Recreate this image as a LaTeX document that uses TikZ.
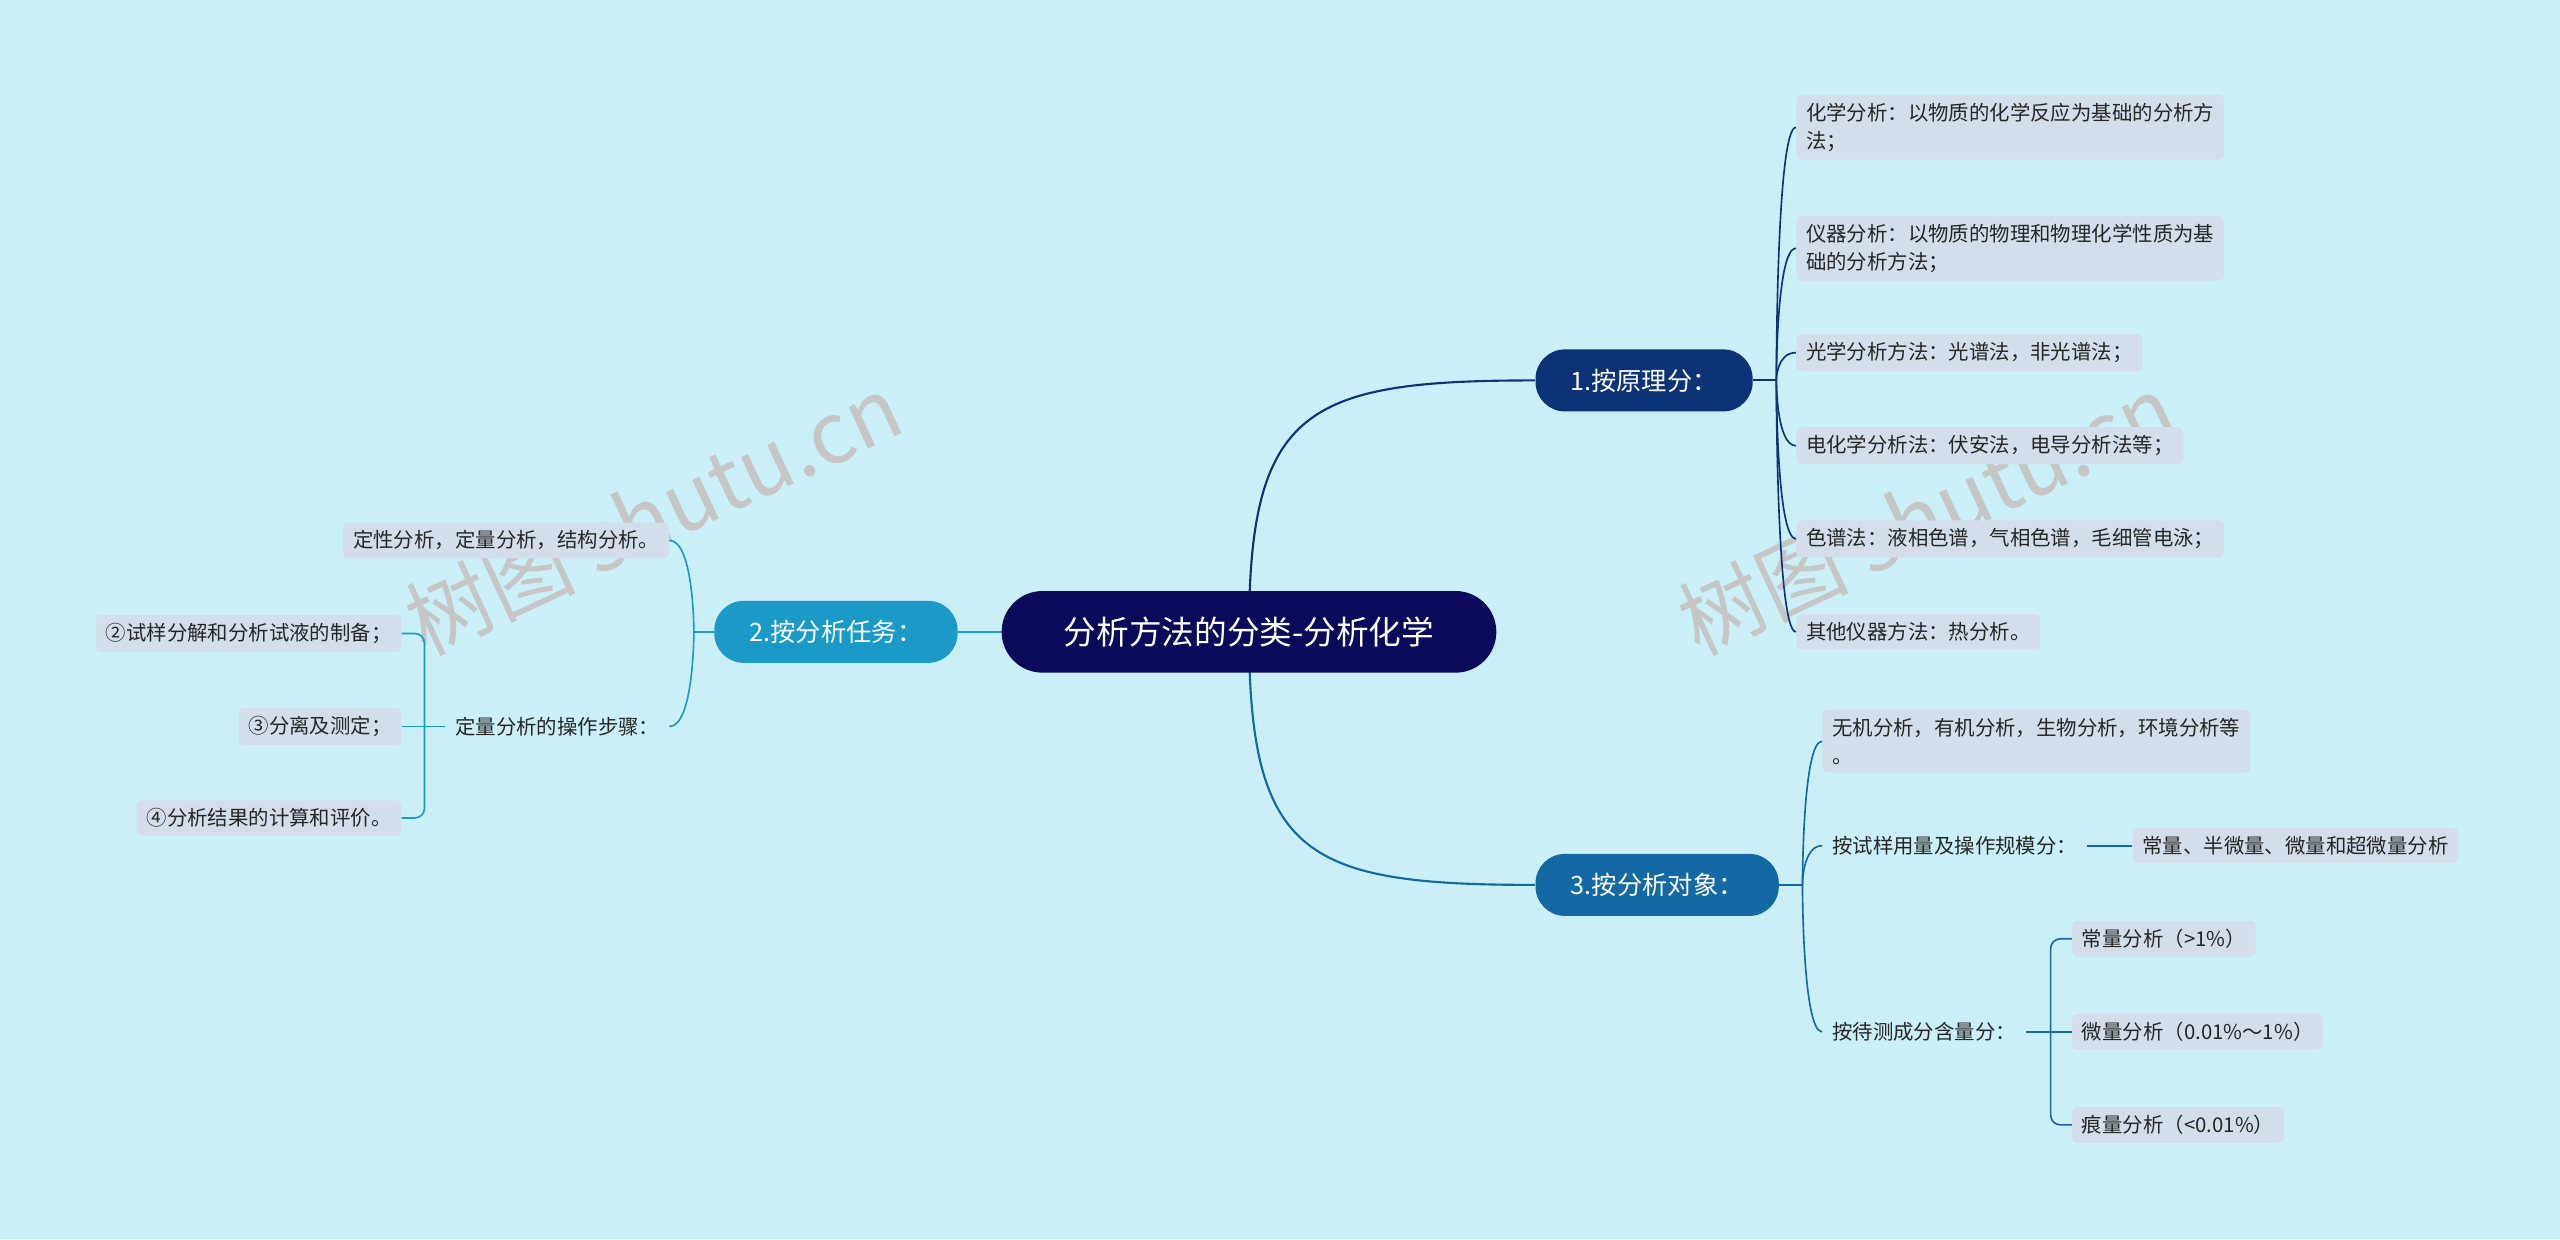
\documentclass[tikz,border=0pt]{standalone}
\usepackage{fontspec}
\setmainfont{Noto Sans CJK SC}
\begin{document}
\begin{tikzpicture}[x=1pt,y=-1pt,
 leaf/.style={anchor=west,fill=lf,rounded corners=3pt,inner xsep=6pt,inner ysep=5pt,font=\fontsize{12.5}{17}\selectfont,align=left,text=black!85},
 br/.style={rounded corners=18pt,minimum height=38pt,text=white,font=\fontsize{15.5}{18}\selectfont,inner xsep=12pt},
 c1/.style={draw=b1c,line width=1.3pt},
 c2/.style={draw=b2c,line width=1.3pt},
 c3/.style={draw=b3c,line width=1.3pt}]
\definecolor{bg}{HTML}{CAEFF7}
\definecolor{lf}{HTML}{D3DEEA}
\definecolor{b1c}{HTML}{0D3377}
\definecolor{b2c}{HTML}{1B9AC8}
\definecolor{b3c}{HTML}{1468A3}
\fill[bg] (0,0) rectangle (1568,759);
\useasboundingbox (0,0) rectangle (1568,759);
\foreach \p in {(400,315),(1180,315)}
 \node[rotate=25,text=gray!45,font=\fontsize{52}{52}\selectfont] at \p {树图 shutu.cn};
% root and branches
\node[br,fill=b1c,minimum width=133pt] (b1) at (1007,233) {1.按原理分：};
\node[br,fill=b2c,minimum width=149pt] (b2) at (512,387) {2.按分析任务：};
\node[br,fill=b3c,minimum width=149pt] (b3) at (1015,542) {3.按分析对象：};
\draw[c1] (765,387) .. controls (765,250) and (800,233) .. (b1.west);
\draw[c3] (765,387) .. controls (765,525) and (800,542) .. (b3.west);
\draw[c2] (b2.east) -- (630,387);
\node[rounded corners=25pt,fill=b1c!40!black!60!blue!50!black,fill={rgb,255:red,10;green,9;blue,90},minimum width=303pt,minimum height=50pt,text=white,font=\fontsize{20}{24}\selectfont] (root) at (765,387) {分析方法的分类-分析化学};
% branch 1 leaves
\coordinate (h1) at (1088,233);
\draw[c1] (b1.east) -- (h1);
\node[leaf] (l11) at (1100,78) {化学分析：以物质的化学反应为基础的分析方\\法；};
\node[leaf] (l12) at (1100,152) {仪器分析：以物质的物理和物理化学性质为基\\础的分析方法；};
\node[leaf] (l13) at (1100,216) {光学分析方法：光谱法，非光谱法；};
\node[leaf] (l14) at (1100,273) {电化学分析法：伏安法，电导分析法等；};
\node[leaf] (l15) at (1100,330) {色谱法：液相色谱，气相色谱，毛细管电泳；};
\node[leaf] (l16) at (1100,387) {其他仪器方法：热分析。};
\foreach \n in {l11,l12,l13,l14,l15,l16}
 \draw[c1,line width=1pt] (h1) .. controls (1088,233) and (1088,0|-\n.west) .. (\n.west);
% branch 3
\coordinate (h3) at (1104,542);
\draw[c3] (b3.east) -- (h3);
\node[leaf] (l31) at (1116,454) {无机分析，有机分析，生物分析，环境分析等\\。};
\node[leaf,fill=none] (l32) at (1116,518) {按试样用量及操作规模分：};
\node[leaf,fill=none] (l33) at (1116,632) {按待测成分含量分：};
\foreach \n in {l31,l32,l33}
 \draw[c3,line width=1pt] (h3) .. controls (1104,542) and (1104,0|-\n.west) .. (\n.west);
\node[leaf] (l321) at (1306,518) {常量、半微量、微量和超微量分析};
\draw[c3,line width=1pt] (l32.east) -- (l321.west);
\node[leaf] (l331) at (1269,575) {常量分析（>1\%）};
\node[leaf] (l332) at (1269,632) {微量分析（0.01\%～1\%）};
\node[leaf] (l333) at (1269,689) {痕量分析（<0.01\%）};
\coordinate (h33) at (1256,632);
\draw[c3,line width=1pt] (l33.east) -- (l332.west);
\draw[c3,line width=1pt,rounded corners=6pt] (l331.west) -| (h33) |- (l333.west);
% branch 2
\coordinate (h2) at (425,387);
\draw[c2] (b2.west) -- (h2);
\node[leaf,anchor=east] (l21) at (410,331) {定性分析，定量分析，结构分析。};
\node[leaf,anchor=east,fill=none] (l22) at (410,445) {定量分析的操作步骤：};
\foreach \n in {l21,l22}
 \draw[c2,line width=1pt] (h2) .. controls (425,387) and (425,0|-\n.east) .. (\n.east);
\node[leaf,anchor=east] (l221) at (246,388) {②试样分解和分析试液的制备；};
\node[leaf,anchor=east] (l222) at (246,445) {③分离及测定；};
\node[leaf,anchor=east] (l223) at (246,501) {④分析结果的计算和评价。};
\coordinate (h22) at (260,445);
\draw[c2,line width=1pt] (l22.west) -- (l222.east);
\draw[c2,line width=1pt,rounded corners=6pt] (l221.east) -| (h22) |- (l223.east);
\end{tikzpicture}
\end{document}
